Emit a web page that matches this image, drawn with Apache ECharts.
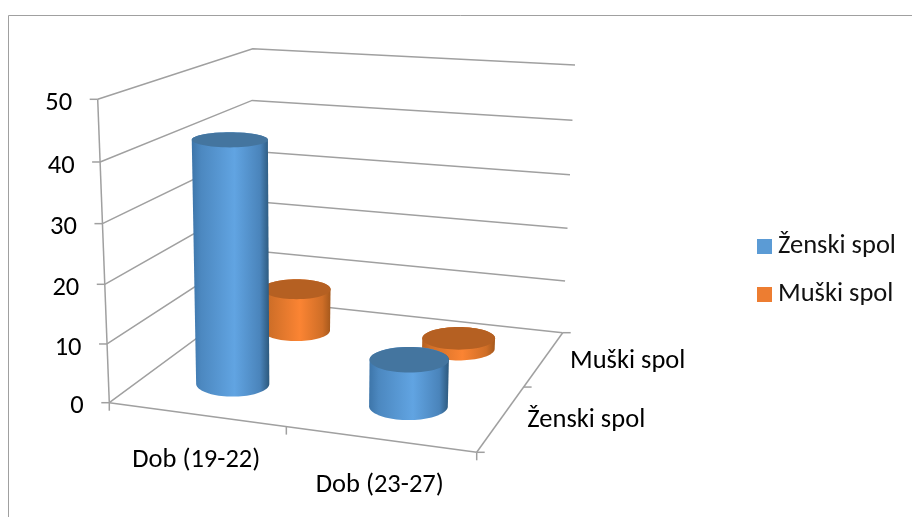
<!DOCTYPE html>
<html>
<head>
<meta charset="utf-8">
<style>
  html, body { margin: 0; background: #fff; }
  #chart { width: 912px; height: 517px; }
</style>
<script src="https://cdn.jsdelivr.net/npm/echarts@6/dist/echarts.min.js"></script>
</head>
<body>
<div id="chart"></div>
<script>
const categories = ['Dob (19-22)', 'Dob (23-27)']
const depthLabels = ['Ženski spol', 'Muški spol']
const zenskiValues = [42, 8]
const muskiValues = [8, 2]
const valueTicks = [0, 10, 20, 30, 40, 50]

const FONT = 'Carlito, Lato, sans-serif'
const FONT_SIZE = 26.5
const GREY = '#a0a0a0'

// the box of the 3d plot
const FL = { bottom: [109.3, 402.7], top: [97.7, 99.3] }
const FR = { bottom: [476.7, 452.3], top: [485, 132] }
const BL = { bottom: [250, 299], top: [252.7, 48.7] }
const BR = { bottom: [562.7, 332.7], top: [575, 65] }

// perspective makes equal steps unequal
const warp = (f, r) => (r * f) / (1 + (r - 1) * f)
const mix = (a, b, t) => [a[0] + (b[0] - a[0]) * t, a[1] + (b[1] - a[1]) * t]

const project = (fu, fd, fv) => {
  const u = warp(fu, 0.93)
  const d = warp(fd, 1.2)
  const t = warp(fv, 0.96)
  const front = mix(mix(FL.bottom, FR.bottom, u), mix(FL.top, FR.top, u), t)
  const back = mix(mix(BL.bottom, BR.bottom, u), mix(BL.top, BR.top, u), t)
  return mix(front, back, d)
}

// axis value -> fractions of the hidden grid, so the library scales do the work
const fractions = (params, api, cat, value) => {
  const p = api.coord([cat, value])
  const r = params.coordSys
  return [(p[0] - r.x) / r.width, (r.y + r.height - p[1]) / r.height]
}

const line = (a, b, width) => ({
  type: 'line',
  shape: { x1: a[0], y1: a[1], x2: b[0], y2: b[1] },
  style: { stroke: GREY, lineWidth: width || 1.5 },
})

const label = (text, x, y, align) => ({
  type: 'text',
  style: {
    text,
    x,
    y,
    align,
    verticalAlign: 'middle',
    font: FONT_SIZE + 'px ' + FONT,
    fill: '#000',
  },
})

const renderValueAxis = (params, api) => {
  const value = api.value(0)
  const fv = fractions(params, api, 0, value)[1]
  const fl = project(0, 0, fv)
  const bl = project(0, 1, fv)
  const br = project(1, 1, fv)
  const children = [
    { type: 'polyline', shape: { points: [fl, bl, br] }, style: { fill: null, stroke: GREY, lineWidth: 1.5 } },
    line([fl[0] - 8, fl[1]], fl),
    label(String(value), fl[0] - 25.5, fl[1] + 4, 'right'),
  ]
  if (value === 0) {
    // floor edges, the y axis line and the end ticks
    const fr = project(1, 0, 0)
    children.push(
      line(fl, project(0, 0, 1)),
      line(fl, fr),
      line(fr, br),
      line(fl, [fl[0], fl[1] + 8]),
      line(fr, [fr[0], fr[1] + 8]),
      line(fr, [fr[0] + 8, fr[1]]),
      line(br, [br[0] + 8, br[1]]),
    )
  }
  return { type: 'group', children }
}

const renderCategoryAxis = (params, api) => {
  const cat = api.value(0)
  const fu = fractions(params, api, cat, 0)[0]
  const p = project(fu, 0, 0)
  const children = [label(categories[cat], p[0], p[1] + 46, 'center')]
  if (cat === 0) {
    const mid = project(0.5, 0, 0)
    children.push(line(mid, [mid[0], mid[1] + 8]))
  }
  return { type: 'group', children }
}

const renderDepthAxis = (params, api) => {
  const i = api.value(0)
  const p = project(1, (i + 0.5) / depthLabels.length, 0)
  const children = [label(depthLabels[i], p[0] + 26, p[1] + 2.5, 'left')]
  if (i === 0) {
    const mid = project(1, 0.5, 0)
    children.push(line(mid, [mid[0] + 8, mid[1]]))
  }
  return { type: 'group', children }
}

const arc = (c, hw, hh, from, to) => {
  const pts = []
  for (let i = 0; i <= 40; i++) {
    const a = from + ((to - from) * i) / 40
    pts.push([c[0] + hw * Math.cos(a), c[1] + hh * Math.sin(a)])
  }
  return pts
}

const ellipseAt = (fu, fd, fv) => {
  const ru = 0.108
  const rd = 0.11
  return {
    c: project(fu, fd, fv),
    hw: Math.abs(project(fu + ru, fd, fv)[0] - project(fu - ru, fd, fv)[0]) / 2,
    hh: Math.abs(project(fu, fd - rd, fv)[1] - project(fu, fd + rd, fv)[1]) / 2,
  }
}

const cylinder = (depthIndex, gradient, topColor) => (params, api) => {
  const cat = api.value(0)
  const [fu, fv] = fractions(params, api, cat, api.value(1))
  const fd = (depthIndex + 0.5) / depthLabels.length
  const b = ellipseAt(fu, fd, 0)
  const t = ellipseAt(fu, fd, fv)
  const body = arc(b.c, b.hw, b.hh, Math.PI, 0).concat(arc(t.c, t.hw, t.hh, 0, -Math.PI))
  return {
    type: 'group',
    children: [
      {
        type: 'polygon',
        shape: { points: body },
        style: {
          fill: new echarts.graphic.LinearGradient(
            0, 0, 1, 0,
            gradient.map((color, i) => ({ offset: [0, 0.12, 0.55, 0.88, 1][i], color })),
          ),
        },
      },
      {
        type: 'ellipse',
        shape: { cx: t.c[0], cy: t.c[1], rx: t.hw, ry: t.hh },
        style: { fill: topColor },
      },
    ],
  }
}

const chart = echarts.init(document.getElementById('chart'))
chart.setOption({
  animation: false,
  backgroundColor: '#fff',
  graphic: [
    {
      type: 'polyline',
      shape: { points: [[8.5, 517], [8.5, 15.5], [912, 15.5]] },
      style: { fill: null, stroke: '#a0a0a0', lineWidth: 1 },
    },
  ],
  legend: {
    orient: 'vertical',
    left: 757,
    top: 233,
    padding: 0,
    icon: 'rect',
    itemWidth: 15,
    itemHeight: 15,
    itemGap: 21,
    data: ['Ženski spol', 'Muški spol'],
    selectedMode: false,
    textStyle: { fontFamily: FONT, fontSize: FONT_SIZE, color: '#111', padding: [0, 0, 0, 1] },
  },
  grid: { left: 100, right: 100, top: 100, bottom: 100 },
  xAxis: { type: 'category', data: categories, show: false },
  yAxis: { type: 'value', min: 0, max: 50, interval: 10, show: false },
  series: [
    {
      name: 'valueAxis',
      type: 'custom',
      data: valueTicks.map((v) => [v]),
      encode: { x: -1, y: 0 },
      renderItem: renderValueAxis,
      silent: true,
    },
    {
      name: 'categoryAxis',
      type: 'custom',
      data: categories.map((c, i) => [i]),
      encode: { x: 0, y: -1 },
      renderItem: renderCategoryAxis,
      silent: true,
    },
    {
      name: 'depthAxis',
      type: 'custom',
      data: depthLabels.map((c, i) => [i]),
      encode: { x: 0, y: -1 },
      renderItem: renderDepthAxis,
      silent: true,
    },
    {
      name: 'Muški spol',
      type: 'custom',
      itemStyle: { color: '#ed7d31' },
      data: muskiValues.map((v, i) => [i, v]),
      encode: { x: 0, y: 1 },
      renderItem: cylinder(1, ['#b5601f', '#d06f28', '#fb8433', '#cf6e27', '#a5581c'], '#b56022'),
    },
    {
      name: 'Ženski spol',
      type: 'custom',
      itemStyle: { color: '#5b9bd5' },
      data: zenskiValues.map((v, i) => [i, v]),
      encode: { x: 0, y: 1 },
      renderItem: cylinder(0, ['#3d75a9', '#4c88c0', '#61a4e2', '#4a84bb', '#2c587c'], '#44759f'),
    },
  ],
})
</script>
</body>
</html>
